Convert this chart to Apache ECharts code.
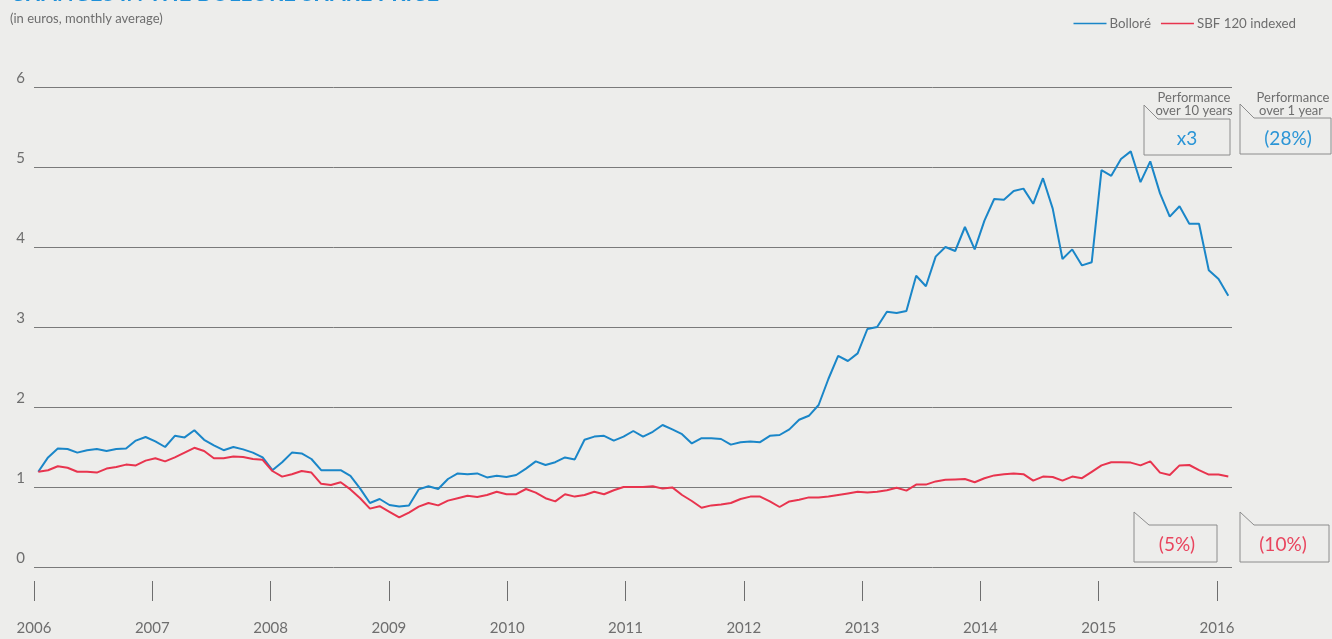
<!DOCTYPE html>
<html>
<head>
<meta charset="utf-8">
<title>Changes in the Bolloré share price</title>
<script src="https://cdn.jsdelivr.net/npm/echarts@6/dist/echarts.min.js"></script>
<style>
  html, body { margin: 0; padding: 0; background: #ededeb; }
  #main { width: 1332px; height: 639px; }
</style>
</head>
<body>
<div id="main"></div>
<script>
  // monthly averages, Jan 2006 -> Mar 2016 (index = month number)
  const bollore = [
    1.19, 1.37, 1.48, 1.475, 1.43, 1.46, 1.475, 1.45, 1.475, 1.48,
    1.58, 1.625, 1.57, 1.50, 1.64, 1.62, 1.71, 1.59, 1.52, 1.46,
    1.50, 1.47, 1.43, 1.37, 1.21, 1.31, 1.43, 1.42, 1.35, 1.21,
    1.21, 1.21, 1.14, 0.98, 0.80, 0.85, 0.775, 0.755, 0.77, 0.97,
    1.01, 0.975, 1.10, 1.17, 1.16, 1.17, 1.12, 1.14, 1.125, 1.15,
    1.23, 1.32, 1.275, 1.31, 1.37, 1.345, 1.59, 1.63, 1.64, 1.58,
    1.63, 1.70, 1.63, 1.69, 1.775, 1.72, 1.66, 1.545, 1.61, 1.61,
    1.60, 1.53, 1.56, 1.57, 1.56, 1.64, 1.65, 1.72, 1.84, 1.89,
    2.025, 2.35, 2.64, 2.575, 2.67, 2.975, 3.00, 3.19, 3.175, 3.20,
    3.64, 3.51, 3.88, 4.00, 3.95, 4.25, 3.97, 4.33, 4.60, 4.59,
    4.70, 4.73, 4.54, 4.86, 4.48, 3.85, 3.97, 3.77, 3.81, 4.96,
    4.89, 5.10, 5.195, 4.81, 5.07, 4.67, 4.38, 4.51, 4.29, 4.29,
    3.71, 3.60, 3.39
  ]
  const sbf120 = [
    1.19, 1.21, 1.26, 1.24, 1.19, 1.19, 1.18, 1.23, 1.25, 1.28,
    1.27, 1.33, 1.36, 1.32, 1.37, 1.43, 1.49, 1.45, 1.36, 1.36,
    1.38, 1.375, 1.35, 1.34, 1.20, 1.13, 1.16, 1.20, 1.18, 1.04,
    1.025, 1.06, 0.97, 0.86, 0.73, 0.76, 0.69, 0.62, 0.68, 0.755,
    0.80, 0.77, 0.83, 0.86, 0.89, 0.875, 0.90, 0.94, 0.91, 0.91,
    0.975, 0.93, 0.86, 0.82, 0.91, 0.88, 0.90, 0.94, 0.91, 0.96,
    1.00, 1.00, 1.00, 1.01, 0.98, 0.995, 0.90, 0.825, 0.74, 0.77,
    0.78, 0.80, 0.85, 0.88, 0.88, 0.82, 0.75, 0.82, 0.84, 0.87,
    0.87, 0.88, 0.90, 0.92, 0.94, 0.93, 0.94, 0.96, 0.99, 0.955,
    1.03, 1.03, 1.07, 1.09, 1.095, 1.10, 1.06, 1.11, 1.145, 1.16,
    1.17, 1.16, 1.08, 1.13, 1.125, 1.08, 1.13, 1.11, 1.19, 1.27,
    1.31, 1.31, 1.305, 1.27, 1.32, 1.18, 1.15, 1.27, 1.275, 1.21,
    1.155, 1.155, 1.13
  ]
  const years = [2006, 2007, 2008, 2009, 2010, 2011, 2012, 2013, 2014, 2015, 2016]
  const yTicks = [0, 1, 2, 3, 4, 5, 6]

  const BLUE = '#1a86c8'
  const RED = '#e8344e'
  const GREY = '#6e6e6e'
  const FONT = 'Lato, "Open Sans", sans-serif'

  const toPoints = (arr) => arr.map((v, i) => [i, v])

  const box = (pts) => ({
    type: 'polyline',
    shape: { points: pts },
    style: { stroke: '#8c8c8c', lineWidth: 1, fill: null },
    silent: true
  })
  const label = (x, y, text, color, size) => ({
    type: 'text',
    x: x,
    y: y,
    style: {
      text: text,
      fill: color,
      font: size + 'px ' + FONT,
      textAlign: 'center',
      textVerticalAlign: 'middle'
    },
    silent: true
  })

  const chart = echarts.init(document.getElementById('main'))
  chart.setOption({
    backgroundColor: '#ededeb',
    animation: false,
    textStyle: { fontFamily: FONT },
    grid: { left: 34, right: 100, top: 87, bottom: 72 },
    legend: {
      right: 31,
      top: 12,
      itemWidth: 33,
      itemHeight: 12,
      itemGap: 10,
      icon: 'path://M0,11 L33,11 L33,12.6 L0,12.6 Z',
      textStyle: { color: GREY, fontSize: 13.3, fontFamily: FONT, padding: [0, 0, 2, -2] },
      data: ['Bolloré', 'SBF 120 indexed']
    },
    xAxis: [{
      type: 'value',
      min: -0.44,
      max: 122.38,
      show: false
    }, {
      type: 'value',
      min: 2006,
      max: 2016.127,
      position: 'bottom',
      offset: 14,
      axisLine: { show: false },
      splitLine: { show: false },
      axisTick: {
        show: true,
        length: 20,
        customValues: years,
        lineStyle: { color: GREY, width: 1 }
      },
      axisLabel: {
        customValues: years,
        margin: 40,
        color: GREY,
        fontSize: 15,
        fontFamily: FONT,
        formatter: (v) => String(v)
      }
    }],
    yAxis: {
      type: 'value',
      min: 0,
      max: 6,
      interval: 1,
      axisLine: { show: false },
      axisTick: { show: false },
      axisLabel: {
        customValues: yTicks,
        margin: 9,
        color: GREY,
        fontSize: 15,
        fontFamily: FONT,
        verticalAlign: 'bottom',
        padding: [0, 0, 1, 0]
      },
      splitLine: { lineStyle: { color: '#7a7a7a', width: 1 } }
    },
    series: [{
      name: 'Bolloré',
      type: 'line',
      xAxisIndex: 0,
      showSymbol: false,
      symbol: 'none',
      color: BLUE,
      lineStyle: { color: BLUE, width: 2 },
      data: toPoints(bollore)
    }, {
      name: 'SBF 120 indexed',
      type: 'line',
      xAxisIndex: 0,
      showSymbol: false,
      symbol: 'none',
      color: RED,
      lineStyle: { color: RED, width: 2 },
      data: toPoints(sbf120)
    }],
    graphic: [
      {
        type: 'text',
        left: 10,
        top: -17,
        style: {
          text: 'CHANGES IN THE BOLLORÉ SHARE PRICE',
          fill: '#1d8fd8',
          font: 'bold 22px ' + FONT
        },
        silent: true
      },
      {
        type: 'text',
        left: 10,
        top: 12,
        style: {
          text: '(in euros, monthly average)',
          fill: GREY,
          font: '13px ' + FONT
        },
        silent: true
      },
      // performance boxes
      box([[1144, 105], [1158, 119], [1230, 119], [1230, 155], [1144, 155], [1144, 105]]),
      box([[1240, 104], [1254, 118], [1331, 118], [1331, 154], [1240, 154], [1240, 104]]),
      box([[1134, 512], [1149, 525], [1217, 525], [1217, 562], [1134, 562], [1134, 512]]),
      box([[1240, 512], [1254, 525], [1329, 525], [1329, 562], [1240, 562], [1240, 512]]),
      label(1194, 98, 'Performance', GREY, 13),
      label(1194, 111, 'over 10 years', GREY, 13),
      label(1293, 98, 'Performance', GREY, 13),
      label(1291, 111, 'over 1 year', GREY, 13),
      label(1187, 139, 'x3', '#2b95d6', 19),
      label(1288, 139, '(28%)', '#2b95d6', 19),
      label(1177, 545, '(5%)', '#e9455e', 19),
      label(1283, 545, '(10%)', '#e9455e', 19)
    ]
  })
  window.addEventListener('resize', function () {
    chart.resize()
  })
</script>
</body>
</html>
